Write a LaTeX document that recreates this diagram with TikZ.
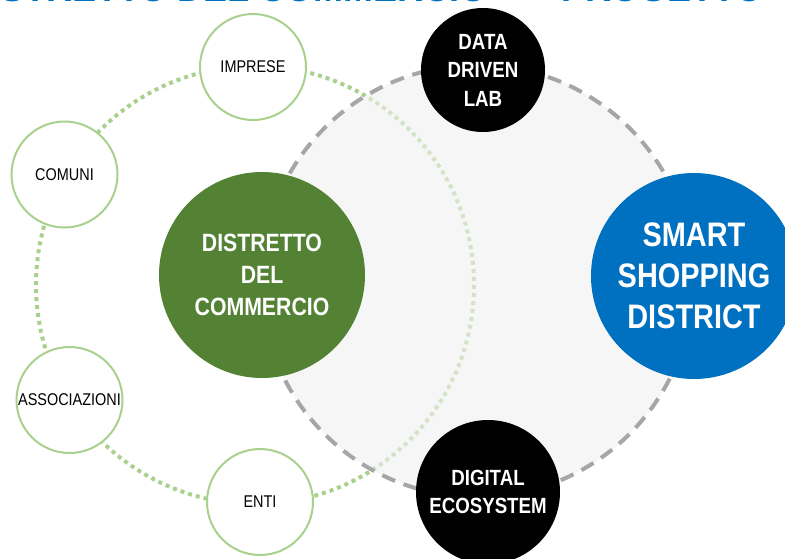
\documentclass[tikz,border=0pt]{standalone}
\usepackage{fontspec}
\setmainfont{Liberation Sans}[FakeStretch=0.85]
\newfontfamily\headingfont{Liberation Sans}

\definecolor{distgreen}{HTML}{548235}
\definecolor{ringgreen}{HTML}{A9D18E}
\definecolor{smartblue}{HTML}{0070C0}
\definecolor{dashgray}{HTML}{A6A6A6}
\definecolor{hubgray}{HTML}{F0F0F0}

\tikzset{
  member/.style={circle, draw=ringgreen, line width=2pt, fill=white,
    minimum size=106pt, inner sep=0pt, text=black,
    font=\fontsize{17}{17}\selectfont},
  ringline/.style={draw=ringgreen, line width=4pt, dash pattern=on 4pt off 4pt},
  hubdisc/.style={circle, fill=hubgray, fill opacity=0.6, draw=dashgray,
    draw opacity=1, line width=4pt, dash pattern=on 14pt off 9pt,
    minimum size=432pt, inner sep=0pt},
  core/.style={circle, inner sep=0pt, text=white, align=center},
}

\begin{document}
\begin{tikzpicture}[x=1pt,y=-1pt]
\useasboundingbox (0,0) rectangle (785,558);
\clip (0,0) rectangle (785,558);

% page heading, running off the top edge
\node[anchor=base west, inner sep=0pt, text=smartblue,
  font=\headingfont\bfseries\fontsize{36}{36}\selectfont] (title) at (-36,1)
  {DISTRETTO DEL COMMERCIO\hspace{0.7em}--\hspace{0.7em}PROGETTO};

% dotted ring of the district's members
\coordinate (ringc) at (255,285);
\draw[ringline] (ringc) circle[radius=219];

% translucent hub of the smart district
\node[hubdisc] (hub) at (477,281) {};

% members on the ring
\node[member] (imprese) at (253,67) {IMPRESE};
\node[member] (comuni) at (64.5,174.5) {COMUNI};
\node[member] (assoc) at (69.5,400) {ASSOCIAZIONI};
\node[member] (enti) at (260,502) {ENTI};

% core circles
\node[core, fill=distgreen, minimum size=206pt,
  font=\bfseries\fontsize{25}{32}\selectfont] (distretto) at (262,275)
  {DISTRETTO\\DEL\\COMMERCIO};
\node[core, fill=black, minimum size=124pt,
  font=\bfseries\fontsize{22}{28.5}\selectfont] (datalab) at (483,70)
  {DATA\\DRIVEN\\LAB};
\node[core, fill=black, minimum size=144pt,
  font=\bfseries\fontsize{22}{28}\selectfont] (digital) at (488,492)
  {DIGITAL\\ECOSYSTEM};
\node[core, fill=smartblue, minimum size=206pt,
  font=\bfseries\fontsize{34}{41}\selectfont] (smart) at (694,276)
  {SMART\\SHOPPING\\DISTRICT};
\end{tikzpicture}
\end{document}
